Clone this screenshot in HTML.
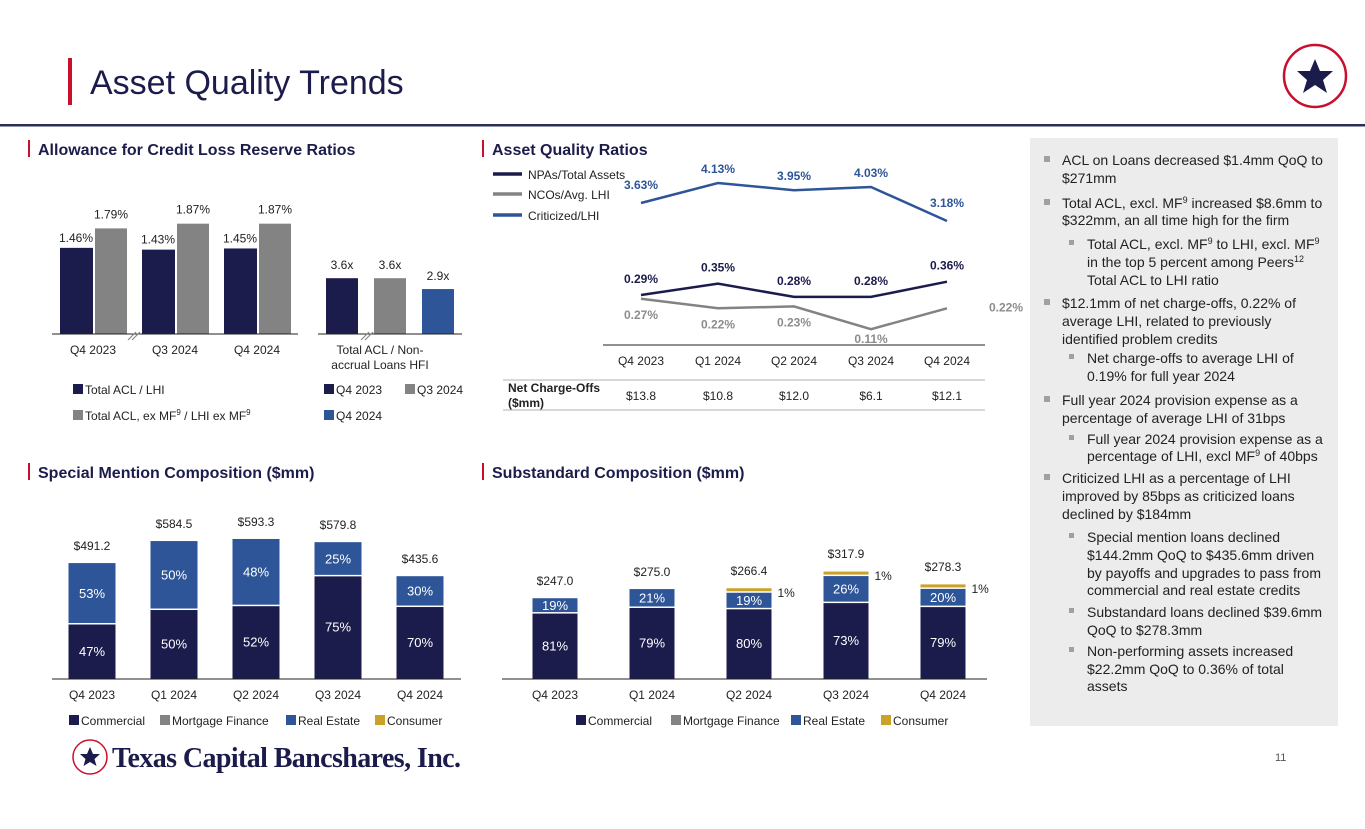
<!DOCTYPE html>
<html><head><meta charset="utf-8"><style>
html,body{margin:0;padding:0;background:#fff;}
svg{display:block;font-family:"Liberation Sans",Arial,sans-serif;}
</style></head><body>
<svg id="s" width="1365" height="829" viewBox="0 0 1365 829" xmlns="http://www.w3.org/2000/svg">
<rect x="68" y="58" width="4" height="47" fill="#c8102e"/>
<text x="90" y="94" font-size="34" fill="#1c1c4c">Asset Quality Trends</text>
<rect x="0" y="124" width="1365" height="2.5" fill="#2a2f5a"/>
<g>
<circle cx="1315" cy="76" r="31" fill="#fff" stroke="#c8102e" stroke-width="2.5"/>
<polygon points="1315,59 1320,71 1333,71 1323,80 1327,93 1315,85 1303,93 1307,80 1297,71 1310,71" fill="#1c1c4c"/>
</g>
<rect x="1030" y="138" width="308" height="588" fill="#ececec"/>
<g font-size="16" font-weight="bold" fill="#1c1c4c">
<rect x="28" y="140" width="2" height="17" fill="#c8102e"/><text x="38" y="155">Allowance for Credit Loss Reserve Ratios</text>
<rect x="482" y="140" width="2" height="17" fill="#c8102e"/><text x="492" y="155">Asset Quality Ratios</text>
<rect x="28" y="463" width="2" height="17" fill="#c8102e"/><text x="38" y="478">Special Mention Composition ($mm)</text>
<rect x="482" y="463" width="2" height="17" fill="#c8102e"/><text x="492" y="478">Substandard Composition ($mm)</text>
</g>
<g id="panel" font-size="14" fill="#222"></g>
<g>
<circle cx="90" cy="757" r="17" fill="#fff" stroke="#c8102e" stroke-width="1.5"/>
<polygon points="90,747 93,754 100,754 94.5,759 96.5,766 90,762 83.5,766 85.5,759 80,754 87,754" fill="#1c1c4c"/>
<text x="112" y="767" font-family="Liberation Serif,serif" font-weight="bold" font-size="28" fill="#1c1c4c" letter-spacing="-0.6">Texas Capital Bancshares, Inc.</text>
</g>
<text x="1275" y="761" font-size="11" fill="#555">11</text>
<g id="c1"></g><g id="c2"></g><g id="c3"></g><g id="c4"></g>
</svg>
<script>
// ---- data ----
const aclCats = ["Q4 2023","Q3 2024","Q4 2024"];
const aclLhi = [1.46,1.43,1.45];
const aclExMf = [1.79,1.87,1.87];
const nonAccrual = [3.6,3.6,2.9];
const nonAccrualLabels = ["3.6x","3.6x","2.9x"];
const aqCats = ["Q4 2023","Q1 2024","Q2 2024","Q3 2024","Q4 2024"];
const npas = [0.29,0.35,0.28,0.28,0.36];
const ncos = [0.27,0.22,0.23,0.11,0.22];
const criticized = [3.63,4.13,3.95,4.03,3.18];
const nco$ = ["$13.8","$10.8","$12.0","$6.1","$12.1"];
const smTotals = [491.2,584.5,593.3,579.8,435.6];
const smCommercial = [47,50,52,75,70];
const smRealEstate = [53,50,48,25,30];
const ssTotals = [247.0,275.0,266.4,317.9,278.3];
const ssCommercial = [81,79,80,73,79];
const ssRealEstate = [19,21,19,26,20];
const ssConsumer = [0,0,1,1,1];

const NS="http://www.w3.org/2000/svg";
const NAVY="#1c1c4c",GRAY="#838383",BLUE="#2e5597",GOLD="#c9a227";
function mk(p,tag,a,txt){const e=document.createElementNS(NS,tag);for(const k in a)e.setAttribute(k,a[k]);if(txt!=null)e.textContent=txt;p.appendChild(e);return e;}
function T(p,x,y,s,o){return mk(p,"text",Object.assign({x:x,y:y,"font-size":12,"text-anchor":"middle",fill:"#222"},o||{}),s);}

// ---- chart 1 ----
const c1=document.getElementById("c1");


const b1=334, s1=59, cx1=[93,175,257];
const y1=v=>b1-v*s1;
aclCats.forEach((c,i)=>{
  let r=mk(c1,"rect",{x:cx1[i]-33,y:y1(aclLhi[i]),width:33,height:b1-y1(aclLhi[i]),fill:NAVY});
  
  
  let r2=mk(c1,"rect",{x:cx1[i]+2,y:y1(aclExMf[i]),width:32,height:b1-y1(aclExMf[i]),fill:GRAY});
  
  
  T(c1,cx1[i]-17,y1(aclLhi[i])-6,aclLhi[i].toFixed(2)+"%");
  T(c1,cx1[i]+18,y1(aclExMf[i])-10,aclExMf[i].toFixed(2)+"%");
  T(c1,cx1[i],354,c);
});
mk(c1,"line",{x1:52,x2:298,y1:b1,y2:b1,stroke:"#222","stroke-width":1});
mk(c1,"path",{d:"M128,340 L136,332 M132,340 L140,332",stroke:"#888","stroke-width":1.2});
const cx2=[342,390,438], cols2=[NAVY,GRAY,BLUE], s2=15.5;
nonAccrual.forEach((v,i)=>{
  let r=mk(c1,"rect",{x:cx2[i]-16,y:b1-v*s2,width:32,height:v*s2,fill:cols2[i]});
  
  
  T(c1,cx2[i],b1-v*s2-9,nonAccrualLabels[i]);
});
mk(c1,"line",{x1:318,x2:462,y1:b1,y2:b1,stroke:"#222","stroke-width":1});
mk(c1,"path",{d:"M361,340 L369,332 M365,340 L373,332",stroke:"#888","stroke-width":1.2});
T(c1,380,354,"Total ACL / Non-");T(c1,380,369,"accrual Loans HFI");
function leg(p,x,y,col,label){mk(p,"rect",{x:x,y:y-10,width:10,height:10,fill:col});const t=T(p,x+12,y,"",{"text-anchor":"start"});t.innerHTML=label;return t;}
leg(c1,73,394,NAVY,"Total ACL / LHI");
leg(c1,73,420,GRAY,'Total ACL, ex MF<tspan font-size="8" dy="-5">9</tspan><tspan dy="5"> / LHI ex MF</tspan><tspan font-size="8" dy="-5">9</tspan>');
leg(c1,324,394,NAVY,"Q4 2023");leg(c1,405,394,GRAY,"Q3 2024");leg(c1,324,420,BLUE,"Q4 2024");

// ---- chart 2 ----
const c2=document.getElementById("c2");


const xs=[641,718,794,871,947];
const yc=v=>203-(v-3.63)*40, yl=v=>295-(v-0.29)*190;
function line(arr,fy,col,name){
  const p=mk(c2,"polyline",{points:arr.map((v,i)=>xs[i]+","+fy(v)).join(" "),fill:"none",stroke:col,"stroke-width":2.5});
  
  
}
line(criticized,yc,BLUE,"line-criticized");line(ncos,yl,GRAY,"line-ncos");line(npas,yl,NAVY,"line-npas");
criticized.forEach((v,i)=>T(c2,xs[i],yc(v)-(i==0?14:i==4?14:10),v.toFixed(2)+"%",{fill:BLUE,"font-weight":"bold"}));
npas.forEach((v,i)=>T(c2,xs[i],yl(v)-12,v.toFixed(2)+"%",{fill:NAVY,"font-weight":"bold"}));
ncos.forEach((v,i)=>T(c2,i==4?1006:xs[i],i==4?yl(v)+3:yl(v)+(i==3?14:20),v.toFixed(2)+"%",{fill:"#8c8c8c","font-weight":"bold"}));
mk(c2,"line",{x1:603,x2:985,y1:345,y2:345,stroke:"#222","stroke-width":1});
aqCats.forEach((c,i)=>T(c2,xs[i],365,c));
mk(c2,"line",{x1:503,x2:985,y1:380,y2:380,stroke:"#ccc","stroke-width":1.5});
mk(c2,"line",{x1:503,x2:985,y1:410,y2:410,stroke:"#ccc","stroke-width":1.5});
T(c2,508,392,"Net Charge-Offs",{"text-anchor":"start","font-weight":"bold"});
T(c2,508,407,"($mm)",{"text-anchor":"start","font-weight":"bold"});
nco$.forEach((v,i)=>T(c2,xs[i],400,v));
[[NAVY,"NPAs/Total Assets",175],[GRAY,"NCOs/Avg. LHI",195],[BLUE,"Criticized/LHI",216]].forEach(l=>{
  mk(c2,"line",{x1:493,x2:522,y1:l[2]-1,y2:l[2]-1,stroke:l[0],"stroke-width":3.5});
  T(c2,528,l[2]+4,l[1],{"text-anchor":"start"});
});

// ---- stacked charts ----
function stacked(g,name,cxs,base,scale,w,tot,com,re,con,axis){
  
  
  tot.forEach((t,i)=>{
    const h=t*scale, x=cxs[i]-w/2;
    const hc=h*com[i]/100, hr=h*re[i]/100, hk=h*con[i]/100;
    let r=mk(g,"rect",{x:x,y:base-hc,width:w,height:hc,fill:NAVY});
    
    
    let r2=mk(g,"rect",{x:x,y:base-hc-hr,width:w,height:hr-1.5,fill:BLUE});
    
    
    T(g,cxs[i],base-hc/2+4,com[i]+"%",{fill:"#fff","font-size":13});
    T(g,cxs[i],base-hc-hr/2+4,re[i]+"%",{fill:"#fff","font-size":13});
    let top=base-hc-hr;
    if(con[i]>0){
      let r3=mk(g,"rect",{x:x,y:top-Math.max(hk,3)-1.5,width:w,height:Math.max(hk,3),fill:GOLD});
      
      
      T(g,cxs[i]+w/2+6,top-4+8,con[i]+"%",{"text-anchor":"start"});
      top-=5;
    }
    T(g,cxs[i],top-13,"$"+t.toFixed(1));
    T(g,cxs[i],base+20,aqCats[i]);
  });
  mk(g,"line",{x1:axis[0],x2:axis[1],y1:base,y2:base,stroke:"#222","stroke-width":1});
  const lx=axis[2];
  leg(g,lx[0],725,NAVY,"Commercial");leg(g,lx[1],725,GRAY,"Mortgage Finance");leg(g,lx[2],725,BLUE,"Real Estate");leg(g,lx[3],725,GOLD,"Consumer");
}
stacked(document.getElementById("c3"),"special-mention-chart",[92,174,256,338,420],679,0.236,47,smTotals,smCommercial,smRealEstate,[0,0,0,0,0],[52,461,[69,160,286,375]]);
stacked(document.getElementById("c4"),"substandard-chart",[555,652,749,846,943],679,0.327,45,ssTotals,ssCommercial,ssRealEstate,ssConsumer,[502,987,[576,671,791,881]]);

// ---- commentary ----
const P=document.getElementById("panel");
const L1=1062,L2=1087;
const lines=[
 [1,165,"ACL on Loans decreased $1.4mm QoQ to",1],[1,183,"$271mm"],
 [1,208,'Total ACL, excl. MF<tspan font-size="9" dy="-5">9</tspan><tspan dy="5"> increased $8.6mm to</tspan>',1],[1,225,"$322mm, an all time high for the firm"],
 [2,249,'Total ACL, excl. MF<tspan font-size="9" dy="-5">9</tspan><tspan dy="5"> to LHI, excl. MF</tspan><tspan font-size="9" dy="-5">9</tspan>',1],[2,267,'in the top 5 percent among Peers<tspan font-size="9" dy="-5">12</tspan>'],[2,285,"Total ACL to LHI ratio"],
 [1,308,"$12.1mm of net charge-offs, 0.22% of",1],[1,326,"average LHI, related to previously"],[1,344,"identified problem credits"],
 [2,363,"Net charge-offs to average LHI of",1],[2,381,"0.19% for full year 2024"],
 [1,405,"Full year 2024 provision expense as a",1],[1,423,"percentage of average LHI of 31bps"],
 [2,444,"Full year 2024 provision expense as a",1],[2,461,'percentage of LHI, excl MF<tspan font-size="9" dy="-5">9</tspan><tspan dy="5"> of 40bps</tspan>'],
 [1,483,"Criticized LHI as a percentage of LHI",1],[1,501,"improved by 85bps as criticized loans"],[1,519,"declined by $184mm"],
 [2,542,"Special mention loans declined",1],[2,560,"$144.2mm QoQ to $435.6mm driven"],[2,578,"by payoffs and upgrades to pass from"],[2,595,"commercial and real estate credits"],
 [2,617,"Substandard loans declined $39.6mm",1],[2,635,"QoQ to $278.3mm"],
 [2,656,"Non-performing assets increased",1],[2,674,"$22.2mm QoQ  to 0.36% of total"],[2,691,"assets"]
];
lines.forEach(l=>{
  const x=l[0]==1?L1:L2;
  const t=mk(P,"text",{x:x,y:l[1]});t.innerHTML=l[2];
  if(l[3]){const sz=l[0]==1?6:5;mk(P,"rect",{x:x-18,y:l[1]-9,width:sz,height:sz,fill:"#a0a0a0"});}
});
</script>
</body></html>
